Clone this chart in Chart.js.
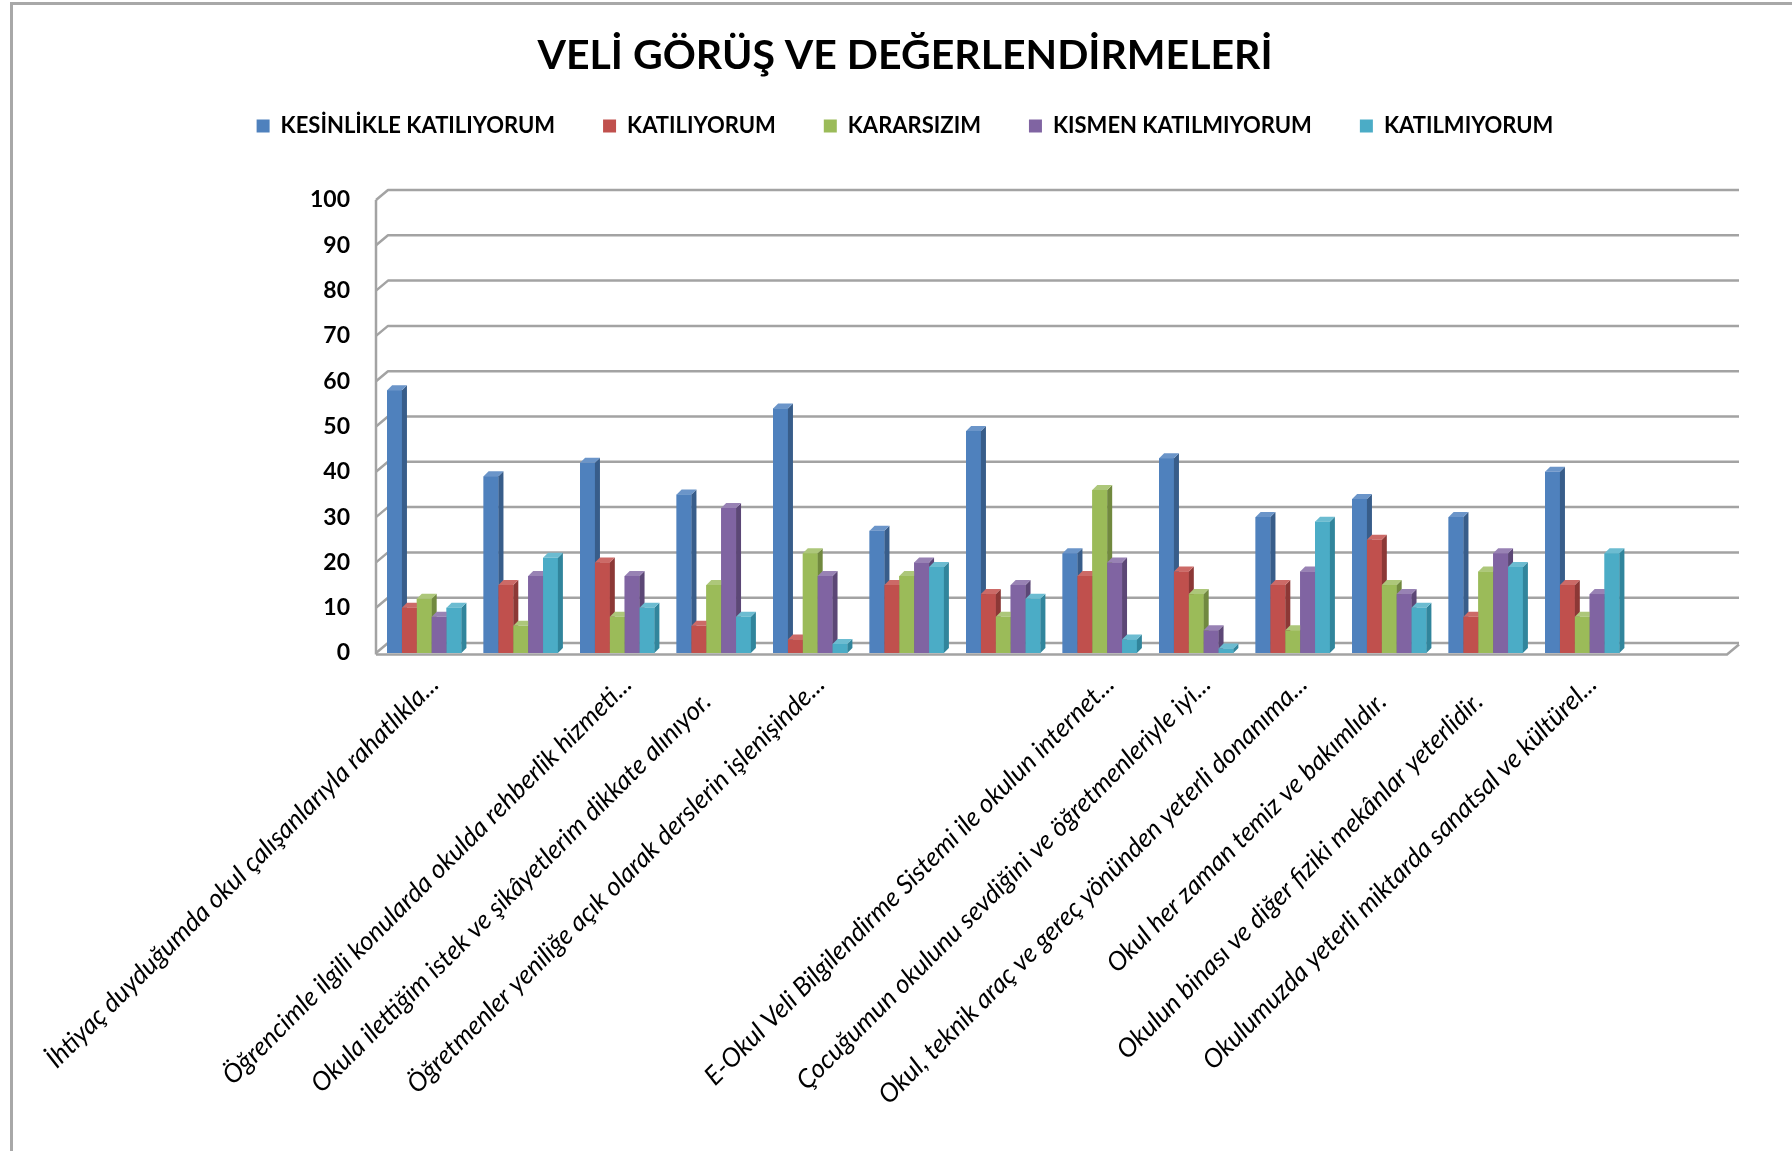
<!DOCTYPE html>
<html>
<head>
<meta charset="utf-8">
<title>Veli Görüş ve Değerlendirmeleri</title>
<script src="https://cdn.jsdelivr.net/npm/chart.js@4.4.1/dist/chart.umd.min.js"></script>
<style>
    html, body { margin: 0; padding: 0; background: #fff; overflow: hidden; }
    #frame {
        position: absolute; left: 10px; top: 2px; width: 1800px; height: 1200px;
        border-left: 3px solid #a8a8a8; border-top: 3px solid #a8a8a8;
    }
    #veliChart { position: absolute; left: 0; top: 0; }
</style>
</head>
<body>
<div id="frame"></div>
<canvas id="veliChart" width="1792" height="1151"></canvas>
<script>
// DATA
const categories = [
    "İhtiyaç duyduğumda okul çalışanlarıyla rahatlıkla...",
    "",
    "Öğrencimle ilgili konularda okulda rehberlik hizmeti...",
    "Okula ilettiğim istek ve şikâyetlerim dikkate alınıyor.    ",
    "Öğretmenler yeniliğe açık olarak derslerin işlenişinde...",
    "",
    "",
    "E-Okul Veli Bilgilendirme Sistemi ile okulun internet...",
    "Çocuğumun okulunu sevdiğini ve öğretmenleriyle iyi...",
    "Okul, teknik araç ve gereç yönünden yeterli donanıma...",
    "Okul her zaman temiz ve bakımlıdır.    ",
    "Okulun binası ve diğer fiziki mekânlar yeterlidir.    ",
    "Okulumuzda yeterli miktarda sanatsal ve kültürel...",
    ""
];
const seriesNames = ["KESİNLİKLE KATILIYORUM", "KATILIYORUM", "KARARSIZIM", "KISMEN KATILMIYORUM", "KATILMIYORUM"];
const kesinlikleKatiliyorum = [58, 39, 42, 35, 54, 27, 49, 22, 43, 30, 34, 30, 40];
const katiliyorum           = [10, 15, 20, 6, 3, 15, 13, 17, 18, 15, 25, 8, 15];
const kararsizim            = [12, 6, 8, 15, 22, 17, 8, 36, 13, 5, 15, 18, 8];
const kismenKatilmiyorum    = [8, 17, 17, 32, 17, 20, 15, 20, 5, 18, 13, 22, 13];
const katilmiyorum          = [10, 21, 10, 8, 2, 19, 12, 3, 1, 29, 10, 19, 22];
const yTickLabels = [0, 10, 20, 30, 40, 50, 60, 70, 80, 90, 100];

const frontColors = ["#4F81BD", "#C0504D", "#9BBB59", "#8064A2", "#4BACC6"];
const sideColors  = ["#385D8A", "#8C3836", "#71893F", "#5C4776", "#31859C"];
const topColors   = ["#6B95C9", "#CC6A67", "#ADC77A", "#9882B4", "#6CBCD1"];

const WALL_X = 12, WALL_Y = 10;   // back wall offset
const BAR_D = 5;                  // bar depth

// back wall + floor grid, drawn behind bars
const wallPlugin = {
    id: "wall3d",
    beforeDatasetsDraw(chart) {
        const ctx = chart.ctx;
        const a = chart.chartArea;
        const ys = chart.scales.y;
        ctx.save();
        ctx.lineWidth = 2.5;
        ctx.strokeStyle = "#a3a3a3";
        ctx.lineJoin = "round";
        yTickLabels.forEach(v => {
            const py = ys.getPixelForValue(v);
            ctx.beginPath();
            ctx.moveTo(a.left, py);
            ctx.lineTo(a.left + WALL_X, py - WALL_Y);
            ctx.lineTo(a.right + WALL_X, py - WALL_Y);
            ctx.stroke();
        });
        const p0 = ys.getPixelForValue(0);
        ctx.beginPath();
        ctx.moveTo(a.left, ys.getPixelForValue(100));
        ctx.lineTo(a.left, p0 + 1.5);
        ctx.stroke();
        ctx.restore();
    },
    afterDatasetsDraw(chart) {
        const ctx = chart.ctx;
        const a = chart.chartArea;
        const ys = chart.scales.y;
        const n = chart.data.labels.length;
        ctx.save();
        // bars, left to right so neighbours overlap correctly
        for (let i = 0; i < n; i++) {
            chart.data.datasets.forEach((ds, d) => {
                if (ds.data[i] == null) return;
                const bar = chart.getDatasetMeta(d).data[i];
                if (!bar) return;
                const p = bar.getProps(["x", "y", "base", "width"], true);
                const l = p.x - p.width / 2, r = p.x + p.width / 2;
                ctx.fillStyle = frontColors[d];
                ctx.fillRect(l, p.y, p.width, p.base - p.y);
                ctx.fillStyle = sideColors[d];
                ctx.beginPath();
                ctx.moveTo(r, p.y);
                ctx.lineTo(r + BAR_D, p.y - BAR_D);
                ctx.lineTo(r + BAR_D, p.base - BAR_D);
                ctx.lineTo(r, p.base);
                ctx.closePath();
                ctx.fill();
                ctx.fillStyle = topColors[d];
                ctx.beginPath();
                ctx.moveTo(l, p.y);
                ctx.lineTo(l + BAR_D, p.y - BAR_D);
                ctx.lineTo(r + BAR_D, p.y - BAR_D);
                ctx.lineTo(r, p.y);
                ctx.closePath();
                ctx.fill();
            });
        }
        // front edge of the floor
        const p0 = ys.getPixelForValue(0) + 1.5;
        ctx.lineWidth = 2.5;
        ctx.strokeStyle = "#a3a3a3";
        ctx.beginPath();
        ctx.moveTo(a.left, p0);
        ctx.lineTo(a.right, p0);
        ctx.lineTo(a.right + WALL_X, p0 - WALL_Y);
        ctx.stroke();
        ctx.restore();
    }
};

const seriesData = [kesinlikleKatiliyorum, katiliyorum, kararsizim, kismenKatilmiyorum, katilmiyorum];

new Chart(document.getElementById("veliChart"), {
    type: "bar",
    data: {
        labels: categories,
        datasets: seriesNames.map((name, i) => ({
            label: name,
            data: seriesData[i],
            backgroundColor: frontColors[i],
            borderWidth: 0
        }))
    },
    options: {
        responsive: false,
        animation: false,
        layout: { padding: { left: 18, right: 0, top: 0, bottom: 0 } },
        categoryPercentage: 0.77,
        barPercentage: 1.0,
        plugins: {
            title: {
                display: true,
                text: "VELİ GÖRÜŞ VE DEĞERLENDİRMELERİ",
                color: "#000",
                font: { family: "Lato", size: 41, weight: "bold" },
                padding: { top: 31.4, bottom: -13.6 }
            },
            legend: {
                position: "top",
                labels: {
                    color: "#000",
                    font: { family: "Lato", size: 22, weight: "bold" },
                    boxWidth: 13,
                    boxHeight: 13,
                    padding: 48
                }
            },
            tooltip: { enabled: false }
        },
        scales: {
            x: {
                offset: true,
                grid: { display: false, drawTicks: false },
                border: { display: false },
                ticks: {
                    autoSkip: false,
                    minRotation: 45,
                    maxRotation: 45,
                    color: "#000",
                    font: { family: "Lato", size: 26, style: "italic" },
                    padding: 16,
                    labelOffset: 10
                },
                afterFit(s) { s.height = 1151 - 653; }
            },
            xTop: {
                position: "top",
                grid: { display: false, drawTicks: false },
                border: { display: false },
                ticks: { display: false },
                afterFit(s) { s.height = 53; }
            },
            y: {
                min: 0,
                max: 100,
                grid: { display: false, drawTicks: false },
                border: { display: false },
                ticks: {
                    stepSize: 10,
                    color: "#000",
                    font: { family: "Lato", size: 23, weight: "bold" },
                    padding: 26
                },
                afterFit(s) { s.width = 376 - 18; }
            },
            yRight: {
                position: "right",
                grid: { display: false, drawTicks: false },
                border: { display: false },
                ticks: { display: false },
                afterFit(s) { s.width = 1792 - 1727; }
            }
        }
    },
    plugins: [wallPlugin]
});
</script>
</body>
</html>
